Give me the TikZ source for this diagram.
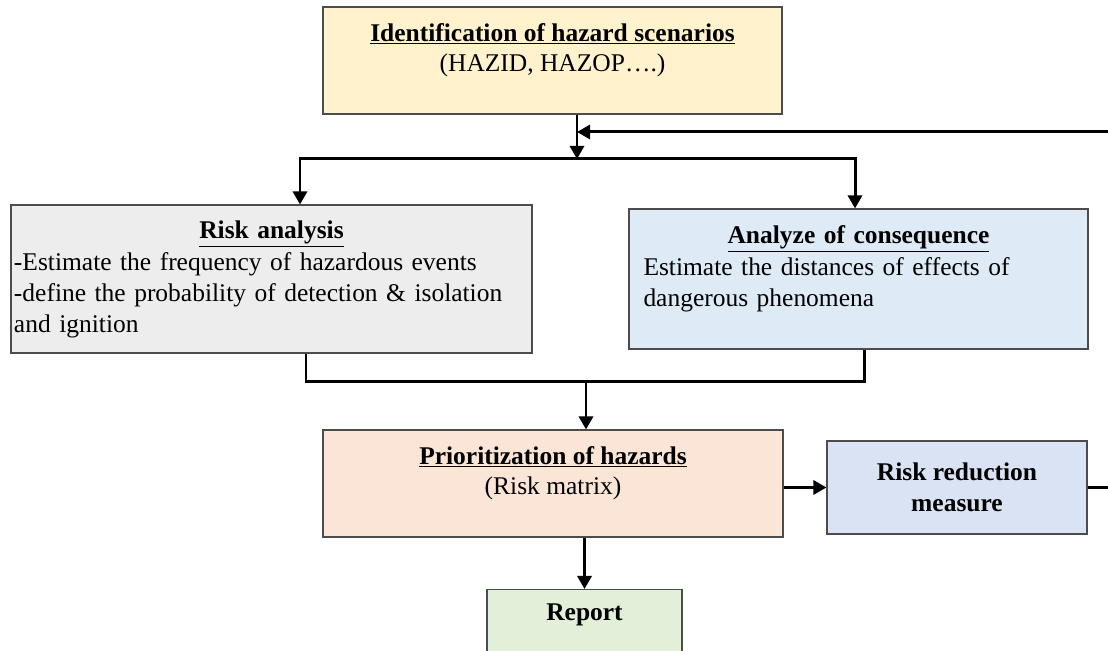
\documentclass[tikz,border=0pt]{standalone}
\usepackage{fontspec}
\setmainfont{Liberation Serif}
\usepackage{xcolor}
\usetikzlibrary{arrows.meta,positioning,calc}
\definecolor{hzYellow}{HTML}{FFF2CC}
\definecolor{hzGray}{HTML}{EDEDED}
\definecolor{hzBlue}{HTML}{DEEBF7}
\definecolor{hzOrange}{HTML}{FBE5D6}
\definecolor{hzSteel}{HTML}{DAE3F3}
\definecolor{hzGreen}{HTML}{E2F0D9}
\newcommand{\ttl}[1]{\underline{\textbf{#1}}}

\begin{document}
\begin{tikzpicture}[
  font=\fontsize{14.5}{17.5}\selectfont, >={Triangle[length=2.6mm,width=2.8mm]},
  box/.style={draw=black!70, line width=0.6pt, align=center, inner sep=0.5mm},
  link/.style={line width=1.7pt, line join=miter}
]
\useasboundingbox (0,0) rectangle (22.16,13.02);
\clip (0,0) rectangle (22.16,13.02);

% boxes
\node[box, fill=hzYellow, minimum width=9.18cm, minimum height=2.14cm] (ident) at (11.05,11.81)
  {\ttl{Identification of hazard scenarios}\\(HAZID, HAZOP\dots.)\\[-8pt] \strut};
\node[box, fill=hzGray, minimum width=10.42cm, minimum height=2.96cm, text width=10.3cm, align=left] (risk) at (5.43,7.44)
  {\makebox[\linewidth]{\ttl{Risk analysis}}\\[1pt]
   -Estimate the frequency of hazardous events\\
   -define the probability of detection \& isolation\\
   and ignition};
\node[box, fill=hzBlue, minimum width=9.18cm, minimum height=2.8cm, text width=8.6cm, align=left] (conseq) at (17.17,7.44)
  {\makebox[\linewidth]{\ttl{Analyze of consequence}}\\[1pt]
   Estimate the distances of effects of\\
   dangerous phenomena\\[-8pt] \strut};
\node[box, fill=hzOrange, minimum width=9.2cm, minimum height=2.14cm] (prior) at (11.06,3.35)
  {\ttl{Prioritization of hazards}\\(Risk matrix)\\[-8pt] \strut};
\node[box, fill=hzSteel, minimum width=5.2cm, minimum height=1.86cm, font=\fontsize{14.5}{17.5}\selectfont\bfseries] (reduce) at (19.14,3.27)
  {Risk reduction\\measure};
\node[box, fill=hzGreen, minimum width=3.9cm, minimum height=1.7cm, anchor=north, font=\fontsize{14.5}{17.5}\selectfont\bfseries] (report) at (11.69,1.24)
  {Report\\ \strut};

% split and merge points
\coordinate (split) at (11.54,9.84);
\coordinate (lsplit) at (6.0,9.84);
\coordinate (rsplit) at (17.1,9.84);
\coordinate (lmerge) at (6.12,5.38);
\coordinate (rmerge) at (17.28,5.38);
\coordinate (merge) at (11.72,5.38);
\coordinate (back) at (22.6,10.38);

% connectors
\draw[link,->] (split |- ident.south) -- (split);
\draw[link,->] (split) -| (lsplit |- risk.north);
\draw[link,->] (split) -| (rsplit |- conseq.north);
\draw[link] (lmerge |- risk.south) |- (rmerge) -- (rmerge |- conseq.south);
\draw[link,->] (merge) -- (merge |- prior.north);
\draw[link,->] (prior.east |- reduce.west) -- (reduce.west);
\draw[link,->] (reduce.east) -| (back) -- (split |- back);
\draw[link,->] (prior.south -| report.north) -- (report.north);
\end{tikzpicture}
\end{document}
